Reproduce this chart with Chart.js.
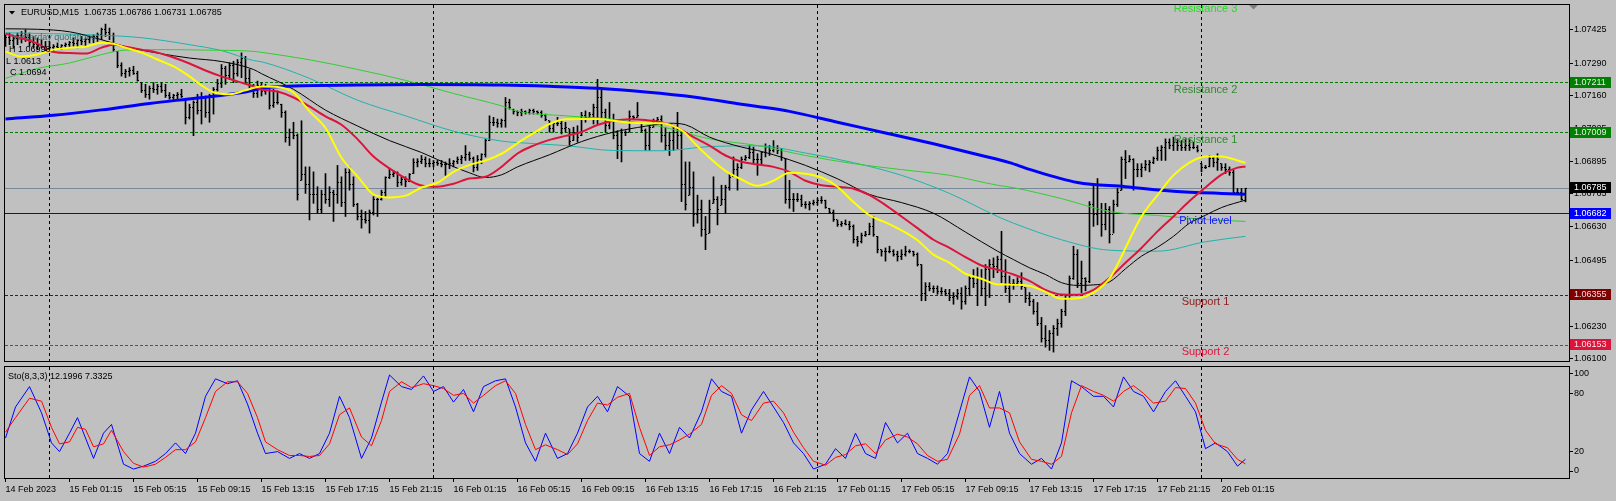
<!DOCTYPE html>
<html>
<head>
<meta charset="utf-8">
<script src="https://cdn.jsdelivr.net/npm/chart.js@4.4.0/dist/chart.umd.min.js"></script>
<style>
    html, body { margin: 0; padding: 0; background: #c0c0c0; }
    body { width: 1616px; height: 501px; position: relative; overflow: hidden; }
    #main { position: absolute; left: 0; top: 0; }
    #sub  { position: absolute; left: 0; top: 366px; }
</style>
</head>
<body>
<canvas id="main" width="1616" height="366"></canvas>
<canvas id="sub" width="1616" height="135"></canvas>
<script>
/* global Chart */

// ---------------------------------------------------------------------------
// Data — EURUSD M15, bar index 0 = 14 Feb 21:15
// ---------------------------------------------------------------------------

const barOpen = [
    1.07380,1.07395,1.07380,1.07390,1.07400,1.07410,1.07395,1.07375,1.07365,1.07360,
    1.07355,1.07350,1.07352,1.07358,1.07355,1.07360,1.07365,1.07372,1.07368,1.07380,
    1.07378,1.07385,1.07392,1.07398,1.07405,1.07425,1.07415,1.07400,1.07338,1.07280,
    1.07250,1.07255,1.07262,1.07250,1.07212,1.07180,1.07165,1.07190,1.07185,1.07195,
    1.07180,1.07160,1.07150,1.07160,1.07165,1.07145,1.07070,1.07110,1.07130,1.07100,
    1.07150,1.07090,1.07160,1.07185,1.07210,1.07270,1.07240,1.07280,1.07250,1.07295,
    1.07310,1.07230,1.07200,1.07170,1.07200,1.07175,1.07180,1.07120,1.07130,1.07125,
    1.07090,1.06990,1.07010,1.07000,1.06818,1.06840,1.06800,1.06760,1.06760,1.06700,
    1.06760,1.06740,1.06770,1.06760,1.06810,1.06730,1.06850,1.06800,1.06720,1.06670,
    1.06660,1.06655,1.06690,1.06740,1.06740,1.06770,1.06830,1.06840,1.06845,1.06810,
    1.06820,1.06815,1.06845,1.06890,1.06895,1.06900,1.06885,1.06885,1.06890,1.06885,
    1.06880,1.06880,1.06885,1.06895,1.06900,1.06910,1.06920,1.06905,1.06870,1.06900,
    1.06920,1.06980,1.07050,1.07050,1.07045,1.07060,1.07130,1.07105,1.07095,1.07090,
    1.07095,1.07092,1.07098,1.07095,1.07090,1.07080,1.07058,1.07025,1.07045,1.07045,
    1.07025,1.07025,1.06978,1.07010,1.06998,1.07080,1.07070,1.07085,1.07110,1.07150,
    1.07090,1.07040,1.07060,1.07000,1.06960,1.07010,1.07012,1.07075,1.07072,1.07045,
    1.07020,1.06960,1.07032,1.07060,1.07065,1.07000,1.06960,1.06980,1.07010,1.07000,
    1.06800,1.06758,1.06790,1.06680,1.06700,1.06620,1.06605,1.06725,1.06740,1.06718,
    1.06740,1.06790,1.06832,1.06860,1.06870,1.06900,1.06910,1.06930,1.06900,1.06900,
    1.06930,1.06950,1.06940,1.06950,1.06940,1.06905,1.06740,1.06740,1.06740,1.06740,
    1.06720,1.06720,1.06725,1.06730,1.06735,1.06735,1.06705,1.06690,1.06658,1.06640,
    1.06645,1.06640,1.06630,1.06580,1.06570,1.06595,1.06600,1.06630,1.06592,1.06538,
    1.06530,1.06530,1.06530,1.06520,1.06510,1.06520,1.06530,1.06530,1.06520,1.06478,
    1.06360,1.06390,1.06380,1.06380,1.06370,1.06370,1.06360,1.06345,1.06350,1.06360,
    1.06330,1.06380,1.06420,1.06400,1.06420,1.06380,1.06460,1.06480,1.06470,1.06500,
    1.06430,1.06380,1.06400,1.06400,1.06410,1.06385,1.06340,1.06330,1.06290,1.06240,
    1.06180,1.06170,1.06200,1.06220,1.06240,1.06290,1.06340,1.06420,1.06520,1.06400,
    1.06420,1.06410,1.06720,1.06680,1.06700,1.06640,1.06700,1.06600,1.06720,1.06778,
    1.06900,1.06892,1.06900,1.06860,1.06860,1.06870,1.06880,1.06890,1.06905,1.06940,
    1.06950,1.06970,1.06960,1.06970,1.06960,1.06950,1.06960,1.06950,1.06950,1.06885,
    1.06870,1.06872,1.06905,1.06890,1.06885,1.06870,1.06860,1.06850,1.06770,1.06770,
    1.06735,
];

const barHigh = [
    1.07405,1.07412,1.07398,1.07412,1.07418,1.07425,1.07412,1.07398,1.07392,1.07385,
    1.07378,1.07378,1.07365,1.07372,1.07365,1.07372,1.07378,1.07392,1.07385,1.07398,
    1.07392,1.07398,1.07405,1.07412,1.07432,1.07448,1.07432,1.07412,1.07338,1.07292,
    1.07265,1.07272,1.07278,1.07258,1.07212,1.07205,1.07198,1.07212,1.07205,1.07212,
    1.07205,1.07172,1.07165,1.07172,1.07185,1.07145,1.07125,1.07138,1.07165,1.07172,
    1.07158,1.07165,1.07192,1.07225,1.07285,1.07278,1.07292,1.07298,1.07305,1.07332,
    1.07318,1.07265,1.07205,1.07218,1.07212,1.07205,1.07185,1.07185,1.07178,1.07125,
    1.07098,1.07025,1.07052,1.07005,1.07058,1.06872,1.06872,1.06852,1.06792,1.06778,
    1.06845,1.06792,1.06778,1.06878,1.06832,1.06865,1.06872,1.06832,1.06725,1.06698,
    1.06692,1.06698,1.06752,1.06745,1.06778,1.06832,1.06865,1.06858,1.06852,1.06832,
    1.06832,1.06845,1.06905,1.06905,1.06918,1.06912,1.06905,1.06898,1.06898,1.06898,
    1.06892,1.06905,1.06898,1.06912,1.06918,1.06958,1.06932,1.06912,1.06918,1.06925,
    1.06985,1.07078,1.07072,1.07065,1.07065,1.07152,1.07145,1.07105,1.07098,1.07105,
    1.07098,1.07105,1.07105,1.07098,1.07098,1.07085,1.07058,1.07052,1.07072,1.07058,
    1.07052,1.07025,1.07032,1.07038,1.07092,1.07098,1.07092,1.07125,1.07225,1.07185,
    1.07105,1.07132,1.07085,1.07018,1.07025,1.07018,1.07098,1.07078,1.07132,1.07045,
    1.07025,1.07038,1.07065,1.07072,1.07078,1.07032,1.07012,1.07032,1.07092,1.07018,
    1.06892,1.06892,1.06852,1.06758,1.06738,1.06672,1.06738,1.06832,1.06752,1.06798,
    1.06798,1.06845,1.06912,1.06885,1.06912,1.06918,1.06958,1.06952,1.06925,1.06932,
    1.06965,1.06958,1.06978,1.06958,1.06945,1.06905,1.06818,1.06765,1.06765,1.06758,
    1.06732,1.06732,1.06738,1.06745,1.06752,1.06738,1.06705,1.06698,1.06658,1.06652,
    1.06658,1.06652,1.06638,1.06592,1.06605,1.06612,1.06645,1.06672,1.06592,1.06538,
    1.06545,1.06552,1.06538,1.06532,1.06538,1.06552,1.06538,1.06532,1.06525,1.06478,
    1.06405,1.06405,1.06392,1.06392,1.06385,1.06378,1.06378,1.06365,1.06378,1.06385,
    1.06392,1.06432,1.06458,1.06465,1.06458,1.06478,1.06498,1.06505,1.06512,1.06612,
    1.06498,1.06432,1.06418,1.06425,1.06445,1.06385,1.06365,1.06338,1.06325,1.06265,
    1.06232,1.06212,1.06232,1.06258,1.06298,1.06358,1.06432,1.06552,1.06538,1.06492,
    1.06425,1.06732,1.06798,1.06825,1.06725,1.06725,1.06712,1.06738,1.06785,1.06912,
    1.06938,1.06918,1.06905,1.06885,1.06885,1.06898,1.06898,1.06912,1.06952,1.06958,
    1.06985,1.06985,1.06992,1.06985,1.06978,1.06985,1.06985,1.06972,1.06958,1.06885,
    1.06878,1.06918,1.06912,1.06925,1.06885,1.06885,1.06872,1.06858,1.06785,1.06785,
    1.06786,
];

const barLow = [
    1.07358,1.07365,1.07352,1.07365,1.07372,1.07378,1.07358,1.07352,1.07345,1.07352,
    1.07338,1.07345,1.07338,1.07345,1.07345,1.07352,1.07352,1.07358,1.07352,1.07365,
    1.07358,1.07372,1.07372,1.07378,1.07385,1.07398,1.07385,1.07338,1.07272,1.07238,
    1.07232,1.07238,1.07245,1.07218,1.07172,1.07152,1.07145,1.07172,1.07165,1.07172,
    1.07152,1.07145,1.07138,1.07145,1.07152,1.07045,1.07065,1.06998,1.07085,1.07045,
    1.07072,1.07052,1.07085,1.07178,1.07192,1.07205,1.07225,1.07212,1.07238,1.07232,
    1.07212,1.07185,1.07152,1.07152,1.07158,1.07165,1.07105,1.07112,1.07125,1.07072,
    1.06972,1.06958,1.06985,1.06738,1.06818,1.06765,1.06658,1.06725,1.06685,1.06685,
    1.06725,1.06712,1.06652,1.06725,1.06712,1.06672,1.06778,1.06712,1.06658,1.06625,
    1.06645,1.06605,1.06678,1.06672,1.06738,1.06752,1.06825,1.06832,1.06792,1.06798,
    1.06792,1.06812,1.06845,1.06872,1.06885,1.06872,1.06872,1.06872,1.06878,1.06872,
    1.06838,1.06865,1.06872,1.06885,1.06885,1.06898,1.06898,1.06852,1.06858,1.06885,
    1.06912,1.06978,1.07038,1.07032,1.07032,1.07032,1.07105,1.07085,1.07078,1.07078,
    1.07085,1.07085,1.07085,1.07085,1.07072,1.07058,1.07012,1.07012,1.07038,1.07005,
    1.07012,1.06958,1.06978,1.06972,1.06998,1.07052,1.07065,1.07045,1.07045,1.07065,
    1.07012,1.07025,1.06985,1.06905,1.06892,1.06998,1.07012,1.07065,1.07072,1.07012,
    1.06938,1.06938,1.07032,1.07045,1.06972,1.06938,1.06918,1.06938,1.06945,1.06732,
    1.06698,1.06758,1.06632,1.06645,1.06592,1.06538,1.06605,1.06725,1.06638,1.06718,
    1.06685,1.06778,1.06832,1.06778,1.06865,1.06898,1.06905,1.06885,1.06838,1.06885,
    1.06912,1.06918,1.06932,1.06925,1.06898,1.06725,1.06705,1.06692,1.06732,1.06712,
    1.06705,1.06698,1.06718,1.06718,1.06725,1.06705,1.06685,1.06652,1.06632,1.06632,
    1.06638,1.06618,1.06565,1.06552,1.06565,1.06592,1.06598,1.06592,1.06525,1.06512,
    1.06492,1.06525,1.06512,1.06492,1.06498,1.06512,1.06525,1.06512,1.06472,1.06332,
    1.06332,1.06372,1.06365,1.06358,1.06358,1.06352,1.06332,1.06318,1.06338,1.06298,
    1.06318,1.06352,1.06385,1.06312,1.06352,1.06312,1.06345,1.06425,1.06445,1.06405,
    1.06365,1.06325,1.06378,1.06392,1.06378,1.06325,1.06312,1.06278,1.06232,1.06165,
    1.06145,1.06132,1.06125,1.06192,1.06225,1.06272,1.06338,1.06418,1.06385,1.06365,
    1.06372,1.06405,1.06632,1.06638,1.06592,1.06618,1.06565,1.06605,1.06712,1.06778,
    1.06825,1.06892,1.06778,1.06832,1.06832,1.06858,1.06852,1.06885,1.06898,1.06898,
    1.06898,1.06945,1.06938,1.06938,1.06938,1.06938,1.06938,1.06945,1.06932,1.06852,
    1.06865,1.06872,1.06872,1.06858,1.06858,1.06845,1.06838,1.06765,1.06765,1.06738,
    1.06731,
];

const barClose = [
    1.07395,1.07380,1.07390,1.07400,1.07410,1.07395,1.07375,1.07365,1.07360,1.07355,
    1.07350,1.07352,1.07358,1.07355,1.07360,1.07365,1.07372,1.07368,1.07380,1.07378,
    1.07385,1.07392,1.07398,1.07405,1.07425,1.07415,1.07400,1.07345,1.07280,1.07250,
    1.07255,1.07262,1.07250,1.07220,1.07180,1.07165,1.07190,1.07185,1.07195,1.07180,
    1.07160,1.07150,1.07160,1.07165,1.07155,1.07070,1.07110,1.07130,1.07100,1.07150,
    1.07090,1.07160,1.07185,1.07210,1.07270,1.07240,1.07280,1.07250,1.07295,1.07310,
    1.07230,1.07200,1.07170,1.07200,1.07175,1.07180,1.07120,1.07130,1.07130,1.07090,
    1.06990,1.07010,1.07000,1.06760,1.06840,1.06800,1.06760,1.06760,1.06700,1.06760,
    1.06740,1.06770,1.06760,1.06810,1.06730,1.06850,1.06800,1.06720,1.06670,1.06660,
    1.06655,1.06690,1.06740,1.06740,1.06770,1.06830,1.06840,1.06845,1.06810,1.06820,
    1.06815,1.06840,1.06890,1.06895,1.06900,1.06885,1.06885,1.06890,1.06885,1.06880,
    1.06880,1.06885,1.06895,1.06900,1.06910,1.06920,1.06905,1.06870,1.06900,1.06920,
    1.06980,1.07050,1.07050,1.07045,1.07060,1.07130,1.07110,1.07095,1.07090,1.07095,
    1.07092,1.07098,1.07095,1.07090,1.07080,1.07062,1.07025,1.07045,1.07045,1.07025,
    1.07030,1.06975,1.07010,1.06990,1.07080,1.07070,1.07085,1.07110,1.07150,1.07090,
    1.07040,1.07060,1.07000,1.06960,1.07010,1.07010,1.07075,1.07070,1.07080,1.07020,
    1.06960,1.07030,1.07060,1.07065,1.07000,1.06960,1.06980,1.07010,1.07000,1.06800,
    1.06720,1.06790,1.06680,1.06700,1.06620,1.06600,1.06700,1.06740,1.06700,1.06740,
    1.06790,1.06830,1.06860,1.06870,1.06900,1.06910,1.06930,1.06900,1.06900,1.06930,
    1.06950,1.06940,1.06950,1.06940,1.06910,1.06740,1.06740,1.06740,1.06740,1.06720,
    1.06720,1.06725,1.06730,1.06735,1.06735,1.06710,1.06690,1.06660,1.06640,1.06645,
    1.06640,1.06630,1.06580,1.06570,1.06595,1.06600,1.06630,1.06600,1.06540,1.06530,
    1.06530,1.06530,1.06520,1.06510,1.06520,1.06530,1.06530,1.06520,1.06480,1.06360,
    1.06390,1.06380,1.06380,1.06370,1.06370,1.06360,1.06345,1.06350,1.06360,1.06330,
    1.06380,1.06420,1.06400,1.06420,1.06380,1.06460,1.06480,1.06470,1.06500,1.06430,
    1.06380,1.06400,1.06400,1.06410,1.06390,1.06340,1.06330,1.06290,1.06240,1.06180,
    1.06170,1.06200,1.06220,1.06240,1.06290,1.06340,1.06420,1.06520,1.06400,1.06420,
    1.06410,1.06720,1.06680,1.06700,1.06640,1.06700,1.06600,1.06720,1.06770,1.06900,
    1.06890,1.06900,1.06860,1.06860,1.06870,1.06880,1.06890,1.06905,1.06940,1.06950,
    1.06970,1.06960,1.06970,1.06960,1.06950,1.06960,1.06950,1.06950,1.06940,1.06870,
    1.06870,1.06905,1.06890,1.06900,1.06870,1.06860,1.06850,1.06770,1.06770,1.06740,
    1.06785,
];

// moving averages, read at sample bars
const yellowX = [0,4,8,12,16,20,24,27,30,34,38,42,46,49,52,56,60,64,68,72,76,80,84,88,92,96,100,104,108,112,116,120,124,128,132,136,140,144,148,152,156,160,164,168,170,172,176,180,184,188,192,196,200,204,208,212,216,220,224,228,232,236,240,244,248,252,256,260,264,268,272,274,276,278,280,284,288,292,296,300,304,308,310];
const yellowY = [1.07337,1.07317,1.07325,1.07345,1.07353,1.07357,1.07373,1.07369,1.07353,1.07333,1.07305,1.07277,1.07237,1.07201,1.07173,1.07165,1.07181,1.07196,1.07194,1.07172,1.07096,1.07029,1.06909,1.06834,1.06761,1.06749,1.06756,1.06789,1.06808,1.06852,1.06880,1.06898,1.06925,1.06968,1.07008,1.07045,1.07064,1.07065,1.07065,1.07058,1.07050,1.07048,1.07048,1.07029,1.07008,1.06972,1.06909,1.06856,1.06821,1.06796,1.06816,1.06848,1.06844,1.06829,1.06792,1.06730,1.06677,1.06648,1.06616,1.06576,1.06518,1.06485,1.06441,1.06421,1.06398,1.06397,1.06392,1.06368,1.06340,1.06342,1.06365,1.06389,1.06421,1.06478,1.06545,1.06672,1.06758,1.06838,1.06889,1.06914,1.06914,1.06898,1.06888];

const redX = [0,4,8,12,16,20,24,27,30,34,38,42,46,50,54,58,62,64,68,72,76,80,84,88,92,96,100,104,108,112,116,120,124,128,132,136,140,144,148,152,156,160,164,168,172,176,180,184,188,192,196,200,204,208,212,216,220,224,228,232,236,240,244,248,252,256,260,264,268,272,276,280,284,288,292,296,300,304,308,310];
const redY = [1.07409,1.07391,1.07369,1.07335,1.07331,1.07329,1.07353,1.07365,1.07357,1.07345,1.07333,1.07313,1.07289,1.07261,1.07237,1.07217,1.07197,1.07184,1.07176,1.07152,1.07116,1.07076,1.07042,1.06984,1.06914,1.06866,1.06826,1.06797,1.06792,1.06804,1.06825,1.06832,1.06872,1.06926,1.06958,1.06981,1.06997,1.07013,1.07041,1.07058,1.07064,1.07061,1.07052,1.07029,1.06992,1.06958,1.06918,1.06893,1.06882,1.06872,1.06852,1.06816,1.06798,1.06792,1.06784,1.06758,1.06718,1.06672,1.06625,1.06578,1.06545,1.06508,1.06474,1.06457,1.06438,1.06412,1.06376,1.06357,1.06356,1.06376,1.06424,1.06485,1.06545,1.06612,1.06672,1.06734,1.06789,1.06841,1.06869,1.06874];

const blackX = [0,8,16,24,30,38,46,54,62,64,72,80,88,96,104,112,116,120,124,128,136,144,152,160,166,170,176,184,188,192,200,208,216,224,232,240,248,252,256,260,264,268,272,276,280,284,288,292,296,300,304,310];
const blackY = [1.07429,1.07427,1.07417,1.07385,1.07357,1.07331,1.07311,1.07297,1.07265,1.07248,1.07185,1.07101,1.07037,1.06978,1.06930,1.06873,1.06848,1.06829,1.06840,1.06872,1.06921,1.06974,1.07012,1.07036,1.07048,1.07042,1.06992,1.06952,1.06938,1.06921,1.06878,1.06824,1.06761,1.06728,1.06685,1.06609,1.06532,1.06498,1.06465,1.06438,1.06405,1.06394,1.06396,1.06408,1.06461,1.06512,1.06548,1.06592,1.06645,1.06677,1.06708,1.06738];

const greenX = [0,8,16,24,30,40,50,62,64,76,88,100,112,124,128,140,152,164,176,188,200,212,224,236,248,252,264,276,288,300,310];
const greenY = [1.07229,1.07269,1.07291,1.07325,1.07343,1.07345,1.07343,1.07338,1.07334,1.07304,1.07265,1.07221,1.07168,1.07118,1.07096,1.07078,1.07064,1.07034,1.06985,1.06958,1.06918,1.06885,1.06861,1.06838,1.06798,1.06788,1.06744,1.06692,1.06676,1.06660,1.06652];

const cyanX = [0,12,24,34,46,54,62,64,76,88,100,112,124,128,140,152,164,176,188,200,212,224,236,248,252,264,276,288,300,310];
const cyanY = [1.07413,1.07409,1.07403,1.07393,1.07365,1.07341,1.07301,1.07296,1.07229,1.07141,1.07078,1.07016,1.06976,1.06970,1.06958,1.06938,1.06937,1.06954,1.06957,1.06928,1.06889,1.06838,1.06765,1.06672,1.06645,1.06578,1.06536,1.06532,1.06570,1.06592];

const blueX = [0,12,24,36,48,60,64,72,88,104,124,136,148,160,172,184,188,196,208,220,232,244,251,256,268,280,292,304,310];
const blueY = [1.07065,1.07080,1.07102,1.07128,1.07150,1.07174,1.07189,1.07198,1.07202,1.07204,1.07202,1.07197,1.07189,1.07174,1.07154,1.07125,1.07116,1.07096,1.07052,1.07009,1.06965,1.06918,1.06889,1.06862,1.06809,1.06792,1.06774,1.06765,1.06762];

// stochastic (8,3,3)
const stochX = [0,2.5,6,9,11.5,13.5,16,18,20,22,24.5,26.5,29.5,32,34.5,37.5,40,42.5,45,47.5,50,52.5,55.5,58,60.5,63,65,68,71,73.5,76,78.5,81,83.5,86,89,91.5,94,96,99,101.5,104.5,107,109.5,112,114.5,117,119.5,122.5,125,127.5,130,132.5,135,138,140.5,143,145.5,148,150.5,153,156,158.5,161,163.5,166,168.5,171,174,176.5,179,181.5,184,186.5,189.5,192,194.5,197,199.5,202,205,207.5,210,212.5,215,217.5,220,223,225.5,228,230.5,233,235.5,238.5,241,243.5,246,248.5,251,253.5,256.5,259,261.5,264,266.5,269,272,274.5,277,279.5,282,284.5,287,290,292.5,295,297.5,300,302.5,305.5,308,310];
const stochMain = [34,66,87,60,29,20,39,55,34,13,39,48,7,2,5,10,18,29,18,39,77,95,90,93,69,39,18,20,13,18,13,18,39,77,55,13,34,71,99,87,84,98,82,87,71,84,61,87,93,95,66,29,10,39,13,18,39,66,77,61,87,77,18,10,39,18,45,34,61,95,82,77,39,63,82,66,50,29,18,2,7,23,13,39,18,13,50,29,39,18,13,7,18,61,97,82,45,82,39,18,7,13,2,29,93,87,77,77,66,97,82,77,61,82,93,77,61,23,29,20,5,12.1996];
const stochSignal = [40,55,75,72,45,28,30,45,43,25,28,42,20,8,4,7,14,22,22,30,55,82,92,92,80,55,30,22,16,16,15,16,28,58,65,35,26,52,82,92,86,90,88,85,78,80,70,78,88,93,80,48,22,27,22,17,28,52,70,68,76,80,45,16,25,27,32,38,48,78,88,80,58,52,70,72,60,40,24,10,6,14,17,26,28,18,32,38,35,28,16,10,12,38,78,88,65,65,60,30,12,10,7,15,60,88,82,78,72,82,88,80,70,72,86,85,70,42,28,24,12,7.3325];

// axes
const priceTicks  = [1.07425, 1.07290, 1.07160, 1.07025, 1.06895, 1.06765, 1.06630, 1.06495, 1.06365, 1.06230, 1.06100];
const stochTicks  = [0, 20, 80, 100];
const timeIdx     = [0, 16, 32, 48, 64, 80, 96, 112, 128, 144, 160, 176, 192, 208, 224, 240, 256, 272, 288, 304];
const timeLabels  = ['14 Feb 2023', '15 Feb 01:15', '15 Feb 05:15', '15 Feb 09:15', '15 Feb 13:15', '15 Feb 17:15',
                     '15 Feb 21:15', '16 Feb 01:15', '16 Feb 05:15', '16 Feb 09:15', '16 Feb 13:15', '16 Feb 17:15',
                     '16 Feb 21:15', '17 Feb 01:15', '17 Feb 05:15', '17 Feb 09:15', '17 Feb 13:15', '17 Feb 17:15',
                     '17 Feb 21:15', '20 Feb 01:15'];
const separatorIdx = [11, 107, 203, 299];

// pivot levels
const levelNames  = ['Resistance 3', 'Resistance 2', 'Resistance 1', 'Piviot level', 'Support 1', 'Support 2'];
const levelValues = [1.07538, 1.07211, 1.07009, 1.06682, 1.06355, 1.06153];
const levelLabelX = 300;

const yesterdayLines = ['Yesterday quotations', 'H 1.06998', 'L 1.0613', 'C 1.0694'];

// ---------------------------------------------------------------------------
// Style
// ---------------------------------------------------------------------------

const FONT = "'Liberation Sans', Arial, sans-serif";
const X_MIN = -0.125, X_MAX = 390.875;

const LEVEL_STYLE = [
    { line: '#00c800', text: '#22dd22', dash: [3, 2], box: null,      boxText: null },
    { line: '#007a00', text: '#2e8a2e', dash: [3, 2], box: '#008000', boxText: '#e4efe4' },
    { line: '#007a00', text: '#2e8a2e', dash: [3, 2], box: '#008000', boxText: '#e4efe4' },
    { line: '#0000ff', text: '#1414ff', dash: [],     box: '#0000ff', boxText: '#ffffff' },
    { line: '#8b0000', text: '#8b1c1c', dash: [3, 2], box: '#800000', boxText: '#f0dcdc' },
    { line: '#dc143c', text: '#dc143c', dash: [3, 2], box: '#dc143c', boxText: '#fbe4e8' },
];

Chart.defaults.font.family = FONT;
Chart.defaults.font.size   = 9;
Chart.defaults.color       = '#000';

// ---------------------------------------------------------------------------
// Helpers
// ---------------------------------------------------------------------------

function tickImage(side) {
    const c = document.createElement('canvas');
    c.width = 3; c.height = 1;
    const g = c.getContext('2d');
    g.fillStyle = '#000';
    g.fillRect(side === 'open' ? 0 : 2, 0, 1, 1);
    return c;
}

function maLine(xs, ys, color, width, order) {
    return {
        type:        'line',
        data:        xs.map((x, i) => ({ x, y: ys[i] })),
        borderColor: color,
        borderWidth: width,
        pointRadius: 0,
        cubicInterpolationMode: 'monotone',
        order,
    };
}

function drawSeparators(chart) {
    const { ctx, chartArea: a, scales: { x } } = chart;
    ctx.save();
    ctx.strokeStyle = '#000';
    ctx.lineWidth = 1;
    ctx.setLineDash([3, 3]);
    separatorIdx.forEach(i => {
        const px = Math.floor(x.getPixelForValue(i)) + 0.5;
        ctx.beginPath();
        ctx.moveTo(px, a.top);
        ctx.lineTo(px, a.bottom);
        ctx.stroke();
    });
    ctx.restore();
}

function drawFrame(chart) {
    const { ctx, chartArea: a } = chart;
    ctx.save();
    ctx.strokeStyle = '#000';
    ctx.lineWidth = 1;
    ctx.strokeRect(Math.floor(a.left) - 0.5, Math.floor(a.top) - 0.5,
                   Math.round(a.right - a.left) + 1, Math.round(a.bottom - a.top) + 1);
    ctx.restore();
}

function priceBox(ctx, py, bg, fg, text) {
    ctx.fillStyle = bg;
    ctx.fillRect(1570, Math.round(py) - 6, 41, 11);
    ctx.fillStyle = fg;
    ctx.textAlign = 'left';
    ctx.textBaseline = 'middle';
    ctx.font = '9px ' + FONT;
    ctx.fillText(text, 1574, Math.round(py) - 0.5);
}

// ---------------------------------------------------------------------------
// Main window decorations
// ---------------------------------------------------------------------------

const last = barClose.length - 1;

const mainDecor = {
    id: 'mainDecor',
    beforeDatasetsDraw(chart) {
        const { ctx, chartArea: a, scales: { y } } = chart;
        drawSeparators(chart);
        ctx.save();
        ctx.beginPath();
        ctx.rect(a.left, a.top, a.right - a.left, a.bottom - a.top);
        ctx.clip();
        ctx.lineWidth = 1;
        levelValues.forEach((v, k) => {
            const py = Math.floor(y.getPixelForValue(v)) + 0.5;
            ctx.strokeStyle = LEVEL_STYLE[k].line;
            ctx.setLineDash(LEVEL_STYLE[k].dash);
            ctx.beginPath();
            ctx.moveTo(a.left, py);
            ctx.lineTo(a.right, py);
            ctx.stroke();
        });
        // bid line
        const pb = Math.floor(y.getPixelForValue(barClose[last])) + 0.5;
        ctx.setLineDash([]);
        ctx.strokeStyle = '#778899';
        ctx.beginPath();
        ctx.moveTo(a.left, pb);
        ctx.lineTo(a.right, pb);
        ctx.stroke();
        ctx.restore();
    },
    afterDraw(chart) {
        const { ctx, chartArea: a, scales: { x, y } } = chart;
        ctx.save();
        ctx.beginPath();
        ctx.rect(a.left, a.top, a.right - a.left, a.bottom - a.top);
        ctx.clip();

        // level captions
        ctx.font = '11px ' + FONT;
        ctx.textAlign = 'center';
        ctx.textBaseline = 'middle';
        const lx = x.getPixelForValue(levelLabelX);
        levelValues.forEach((v, k) => {
            ctx.fillStyle = LEVEL_STYLE[k].text;
            ctx.fillText(levelNames[k], lx, y.getPixelForValue(v) + 7);
        });

        // yesterday block
        ctx.font = '9px ' + FONT;
        ctx.textAlign = 'left';
        ctx.fillStyle = '#2f6f6f';
        ctx.fillText(yesterdayLines[0], 12, 38);
        ctx.fillStyle = '#000';
        ctx.fillText(yesterdayLines[1], 9, 49.5);
        ctx.fillText(yesterdayLines[2], 6, 61.5);
        ctx.fillText(yesterdayLines[3], 10, 72.5);

        // title
        ctx.fillText('EURUSD,M15  ' + [barOpen[last], barHigh[last], barLow[last], barClose[last]]
            .map(v => v.toFixed(5)).join(' '), 21, 13);
        ctx.beginPath();
        ctx.moveTo(9, 11); ctx.lineTo(15, 11); ctx.lineTo(12, 14.5); ctx.closePath();
        ctx.fill();

        // chart shift marker
        ctx.fillStyle = '#7c7c86';
        ctx.beginPath();
        ctx.moveTo(1249, 5); ctx.lineTo(1258, 5); ctx.lineTo(1253.5, 9.5); ctx.closePath();
        ctx.fill();
        ctx.restore();

        drawFrame(chart);

        // price tags on the axis
        ctx.save();
        levelValues.forEach((v, k) => {
            const s = LEVEL_STYLE[k];
            if (!s.box || v > y.max) return;
            priceBox(ctx, y.getPixelForValue(v), s.box, s.boxText, v.toFixed(5));
        });
        priceBox(ctx, y.getPixelForValue(barClose[last]), '#000', '#fff', barClose[last].toFixed(5));
        ctx.restore();
    },
};

// ---------------------------------------------------------------------------
// Main chart
// ---------------------------------------------------------------------------

new Chart(document.getElementById('main'), {
    type: 'line',
    data: {
        datasets: [
            maLine(yellowX, yellowY, '#ffff00', 2, 0),
            maLine(redX,    redY,    '#dc143c', 2, 1),
            maLine(blueX,   blueY,   '#0000ff', 3, 2),
            maLine(blackX,  blackY,  '#000000', 1, 3),
            maLine(greenX,  greenY,  '#32cd32', 1, 4),
            maLine(cyanX,   cyanY,   '#20b2aa', 1, 5),
            {
                type: 'bar',
                data: barHigh.map((h, i) => ({ x: i, y: [barLow[i], h] })),
                backgroundColor: '#000',
                borderWidth: 0,
                barThickness: 1,
                grouped: false,
                order: 8,
            },
            {
                type: 'line',
                data: barOpen.map((v, i) => ({ x: i, y: v })),
                showLine: false,
                pointStyle: tickImage('open'),
                pointRadius: 1,
                order: 7,
            },
            {
                type: 'line',
                data: barClose.map((v, i) => ({ x: i, y: v })),
                showLine: false,
                pointStyle: tickImage('close'),
                pointRadius: 1,
                order: 6,
            },
        ],
    },
    options: {
        responsive: false,
        animation:  false,
        events:     [],
        devicePixelRatio: 1,
        layout:  { padding: { left: 5, top: 5, right: 0, bottom: 2 } },
        plugins: { legend: { display: false }, tooltip: { enabled: false } },
        scales: {
            x: { type: 'linear', min: X_MIN, max: X_MAX, offset: false, display: false },
            y: {
                type: 'linear', position: 'right', min: 1.06089, max: 1.07525,
                afterBuildTicks: s => { s.ticks = priceTicks.map(value => ({ value })); },
                afterFit: s => { s.width = 47; s.paddingTop = 0; s.paddingBottom = 0; },
                grid:   { drawOnChartArea: false, tickLength: 4, color: '#000' },
                border: { display: false },
                ticks:  { padding: 1, color: '#000', callback: v => v.toFixed(5) },
            },
        },
    },
    plugins: [mainDecor],
});

// ---------------------------------------------------------------------------
// Stochastic sub-window
// ---------------------------------------------------------------------------

const subDecor = {
    id: 'subDecor',
    beforeDatasetsDraw(chart) { drawSeparators(chart); },
    afterDraw(chart) {
        const { ctx } = chart;
        drawFrame(chart);
        ctx.save();
        ctx.font = '9px ' + FONT;
        ctx.fillStyle = '#000';
        ctx.textAlign = 'left';
        ctx.textBaseline = 'middle';
        ctx.fillText('Sto(8,3,3) ' + stochMain[stochMain.length - 1].toFixed(4) + ' ' +
                     stochSignal[stochSignal.length - 1].toFixed(4), 8, 11);
        ctx.restore();
    },
};

new Chart(document.getElementById('sub'), {
    type: 'line',
    data: {
        datasets: [
            { data: stochX.map((x, i) => ({ x, y: stochSignal[i] })), borderColor: '#ff0000',
              borderWidth: 1, pointRadius: 0, order: 0 },
            { data: stochX.map((x, i) => ({ x, y: stochMain[i] })), borderColor: '#0000ff',
              borderWidth: 1, pointRadius: 0, order: 1 },
        ],
    },
    options: {
        responsive: false,
        animation:  false,
        events:     [],
        devicePixelRatio: 1,
        layout:  { padding: { left: 5, top: 1, right: 0, bottom: 0 } },
        plugins: { legend: { display: false }, tooltip: { enabled: false } },
        scales: {
            x: {
                type: 'linear', min: X_MIN, max: X_MAX, offset: false,
                afterBuildTicks: s => { s.ticks = timeIdx.map(value => ({ value })); },
                afterFit: s => { s.height = 23; s.paddingLeft = 0; s.paddingRight = 0; },
                grid:   { drawOnChartArea: false, tickLength: 4, color: '#000' },
                border: { display: false },
                ticks:  { align: 'start', autoSkip: false, maxRotation: 0, padding: 2, color: '#000',
                          callback: (v, i) => timeLabels[i] },
            },
            y: {
                type: 'linear', position: 'right', min: -7.2, max: 107.2,
                afterBuildTicks: s => { s.ticks = stochTicks.map(value => ({ value })); },
                afterFit: s => { s.width = 47; s.paddingTop = 0; s.paddingBottom = 0; },
                grid:   { drawOnChartArea: false, tickLength: 4, color: '#000' },
                border: { display: false },
                ticks:  { padding: 1, color: '#000' },
            },
        },
    },
    plugins: [subDecor],
});
</script>
</body>
</html>
